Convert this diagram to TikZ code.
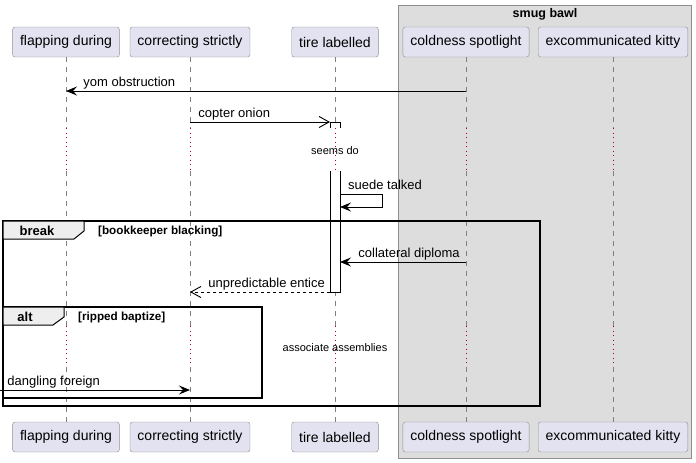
\documentclass[tikz,border=0pt]{standalone}
\usepackage{fontspec}
\setmainfont{Liberation Sans}
\usetikzlibrary{arrows.meta,positioning}

\definecolor{partfill}{HTML}{E2E2F0}
\definecolor{partline}{HTML}{8E8E8E}
\definecolor{boxgray}{HTML}{DDDDDD}
\definecolor{tabgray}{HTML}{EEEEEE}
\definecolor{lifegray}{HTML}{808080}
\definecolor{delayred}{HTML}{A80036}

\begin{document}
\begin{tikzpicture}[x=1pt,y=-1pt,
    part/.style={rectangle,rounded corners=2.5pt,draw=partline,fill=partfill,
                 minimum height=30pt,inner xsep=7.5pt,font=\fontsize{14}{16}\selectfont},
    life/.style={lifegray,dash pattern=on 5pt off 5pt},
    delay/.style={delayred,line width=1pt,dash pattern=on 1pt off 3.5pt},
    msg/.style={-{Stealth[length=11pt,width=9pt,inset=4pt]},line width=0.9pt},
    open/.style={-{Straight Barb[length=10pt,width=11pt]},line width=0.9pt},
    lbl/.style={anchor=base west,yshift=5pt,inner sep=0pt,font=\fontsize{13}{15}\selectfont},
    dtext/.style={font=\fontsize{11}{13}\selectfont,inner sep=0pt},
    frame/.style={draw,line width=1.5pt},
    tab/.style={draw,line width=1pt,fill=tabgray},
    guard/.style={anchor=west,inner sep=0pt,font=\bfseries\fontsize{11.7}{13}\selectfont}]

  \useasboundingbox (0,0) rectangle (696,463);

  % group box
  \draw[partline,fill=boxgray] (398,5) rectangle (691,458);
  \node[font=\bfseries\fontsize{12.5}{14}\selectfont] (grp) at (545,14) {smug bawl};

  % participants
  \node[part] (fd-top) at (66,42)  {flapping during};
  \node[part] (cs-top) at (190,42) {correcting strictly};
  \node[part] (tl-top) at (335,42) {tire labelled};
  \node[part] (co-top) at (466,42) {coldness spotlight};
  \node[part] (ek-top) at (613,42) {excommunicated kitty};
  \node[part] (fd-bot) at (66,437)  {flapping during};
  \node[part] (cs-bot) at (190,437) {correcting strictly};
  \node[part] (tl-bot) at (335,437) {tire labelled};
  \node[part] (co-bot) at (466,437) {coldness spotlight};
  \node[part] (ek-bot) at (613,437) {excommunicated kitty};

  % rows
  \coordinate (y1) at (0,91);
  \coordinate (y2) at (0,122);
  \coordinate (d1a) at (0,128);
  \coordinate (d1b) at (0,171);
  \coordinate (y3) at (0,194);
  \coordinate (y3b) at (0,207);
  \coordinate (y4) at (0,262);
  \coordinate (y5) at (0,292);
  \coordinate (d2a) at (0,326);
  \coordinate (d2b) at (0,367);
  \coordinate (y6) at (0,390);
  \coordinate (actL) at (330,0);
  \coordinate (actR) at (340,0);
  \coordinate (lft) at (0,390);

  % lifelines
  \foreach \p in {fd,cs,tl,co,ek}{
    \draw[life] (\p-top) -- (\p-top |- d1a);
    \draw[delay] (\p-top |- d1a) -- (\p-top |- d1b);
    \draw[life] (\p-top |- d1b) -- (\p-top |- d2a);
    \draw[delay] (\p-top |- d2a) -- (\p-top |- d2b);
    \draw[life] (\p-top |- d2b) -- (\p-bot);
  }

  % activation
  \draw[fill=white] (actL |- d1a) -- (actL |- y2) -- (actR |- y2) -- (actR |- d1a);
  \draw[fill=white] (actL |- d1b) -- (actL |- y5) -- (actR |- y5) -- (actR |- d1b);

  % delays
  \node[dtext] (dl1) at (tl-top |- 0,151) {seems do};
  \node[dtext] (dl2) at (tl-top |- 0,348) {associate assemblies};

  % frames
  \draw[frame] (3,221) rectangle (540,406);
  \draw[tab] (3,221) -- (84,221) -- (84,231) -- (74,239) -- (3,239) -- cycle;
  \node[font=\bfseries\fontsize{13}{15}\selectfont] (brk) at (37,230.5) {break};
  \node[guard] (g1) at (98,231) {[bookkeeper blacking]};

  \draw[frame] (3,307) rectangle (262,398);
  \draw[tab] (3,307) -- (64,307) -- (64,317) -- (53,325) -- (3,325) -- cycle;
  \node[font=\bfseries\fontsize{13}{15}\selectfont] (alt) at (25,316.5) {alt};
  \node[guard] (g2) at (78,317) {[ripped baptize]};

  % messages
  \path (co-top |- y1) edge[msg] node[lbl,at end,xshift=17pt] {yom obstruction} (fd-top |- y1);
  \path (cs-top |- y2) edge[open] node[lbl,at start,xshift=8pt] {copter onion} (actL |- y2);
  \draw[msg] (actR |- y3) -- ++(42,0) -- ++(0,13) -- (actR |- y3b);
  \node[lbl] (st) at (actR |- y3) [xshift=8pt] {suede talked};
  \path (co-top |- y4) edge[msg] node[lbl,at end,xshift=18pt] {collateral diploma} (actR |- y4);
  \path (actL |- y5) edge[open,dashed] node[lbl,at end,xshift=18pt] {unpredictable entice} (cs-top |- y5);
  \path (lft) edge[msg] node[lbl,at start,xshift=7pt] {dangling foreign} (cs-top |- y6);
\end{tikzpicture}
\end{document}
